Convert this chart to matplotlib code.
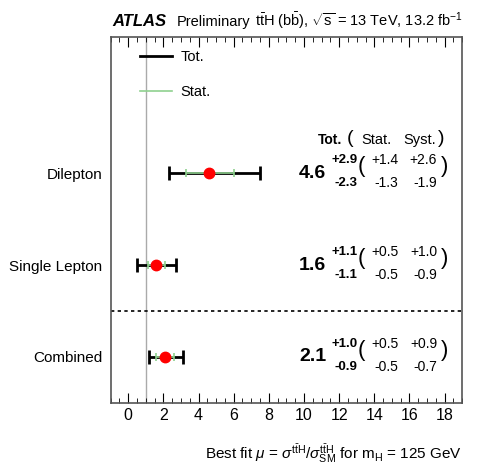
import matplotlib
matplotlib.use("Agg")
import matplotlib.pyplot as plt
from matplotlib.lines import Line2D
from matplotlib.ticker import MultipleLocator

plt.rcParams['font.family'] = ['Liberation Sans', 'DejaVu Sans']
plt.rcParams['mathtext.fontset'] = 'custom'
plt.rcParams['mathtext.rm'] = 'Liberation Sans'
plt.rcParams['mathtext.it'] = 'Liberation Sans:italic'

# channels, bottom to top
CHANNELS = ["Combined", "Single Lepton", "Dilepton"]
MU = [2.1, 1.6, 4.6]
TOT_UP = [1.0, 1.1, 2.9]
TOT_DN = [0.9, 1.1, 2.3]
STAT_UP = [0.5, 0.5, 1.4]
STAT_DN = [0.5, 0.5, 1.3]
SYST_UP = [0.9, 1.0, 2.6]
SYST_DN = [0.7, 0.9, 1.9]
SM_MU = 1.0

GREEN = '#8fd18f'

fig = plt.figure(figsize=(4.83, 4.68), dpi=100)
ax = fig.add_axes([0.229, 0.139, 0.728, 0.782])

ypos = list(range(len(CHANNELS)))

ax.axvline(SM_MU, color='#aaaaaa', lw=1, zorder=1)
ax.axhline(0.5, color='black', lw=1.2, ls=(0, (2, 2)), zorder=1)

ax.errorbar(MU, ypos, xerr=[TOT_DN, TOT_UP], fmt='none', ecolor='black',
            elinewidth=2, capsize=5, capthick=2, zorder=2)
ax.errorbar(MU, ypos, xerr=[STAT_DN, STAT_UP], fmt='none', ecolor=GREEN,
            elinewidth=1.2, capsize=3, capthick=1.2, zorder=3)
ax.plot(MU, ypos, 'o', color='red', ms=7.5, zorder=4)

# numbers on the right
for i, y in enumerate(ypos):
    ax.text(10.5, y, f"{MU[i]:.1f}", fontsize=14, fontweight='bold',
            ha='center', va='center')
    ax.text(11.55, y + 0.14, f"+{TOT_UP[i]:.1f}", fontsize=9.5, fontweight='bold',
            ha='left', va='center')
    ax.text(11.75, y - 0.11, f"-{TOT_DN[i]:.1f}", fontsize=9.5, fontweight='bold',
            ha='left', va='center')
    ax.text(13.25, y + 0.07, "(", fontsize=16, ha='center', va='center')
    ax.text(14.6, y + 0.14, f"+{STAT_UP[i]:.1f}", fontsize=10, ha='center', va='center')
    ax.text(14.7, y - 0.11, f"-{STAT_DN[i]:.1f}", fontsize=10, ha='center', va='center')
    ax.text(16.8, y + 0.14, f"+{SYST_UP[i]:.1f}", fontsize=10, ha='center', va='center')
    ax.text(16.9, y - 0.11, f"-{SYST_DN[i]:.1f}", fontsize=10, ha='center', va='center')
    ax.text(18.0, y + 0.07, ")", fontsize=16, ha='center', va='center')

ax.text(11.5, 2.36, "Tot.", fontsize=10, fontweight='bold', ha='center', va='center')
ax.text(12.6, 2.38, "(", fontsize=14, ha='center', va='center')
ax.text(14.1, 2.36, "Stat.", fontsize=10.5, ha='center', va='center')
ax.text(16.55, 2.36, "Syst.", fontsize=10.5, ha='center', va='center')
ax.text(17.8, 2.38, ")", fontsize=14, ha='center', va='center')

handles = [Line2D([], [], color='black', lw=2), Line2D([], [], color=GREEN, lw=1.2)]
ax.legend(handles, ["Tot.", "Stat."], loc='upper left', frameon=False,
          fontsize=10.5, handlelength=2.2, handletextpad=0.6, labelspacing=1.45,
          bbox_to_anchor=(0.045, 1.0))

ax.set_xlim(-1, 19)
ax.set_ylim(-0.5, 3.48)
ax.set_yticks(ypos)
ax.set_yticklabels(CHANNELS, fontsize=11)
ax.tick_params(axis='y', length=0, pad=6)
ax.xaxis.set_major_locator(MultipleLocator(2))
ax.xaxis.set_minor_locator(MultipleLocator(0.5))
ax.tick_params(axis='x', which='both', direction='in', top=True, labelsize=11.5)
ax.tick_params(axis='x', which='major', length=7)
ax.tick_params(axis='x', which='minor', length=3.5)
for s in ax.spines.values():
    s.set_color('#555555')
    s.set_linewidth(1.2)

ax.set_xlabel(r"Best fit $\mu$ = $\sigma^{\mathrm{t\bar{t}H}}/\sigma^{\mathrm{t\bar{t}H}}_{\mathrm{SM}}$"
              r" for m$_{\mathrm{H}}$ = 125 GeV",
              fontsize=11, ha='right', x=1.0, labelpad=14)

fig.text(0.232, 0.944, "ATLAS", fontsize=12, fontweight='bold', fontstyle='italic')
fig.text(0.366, 0.944, "Preliminary", fontsize=10.5)
fig.text(0.528, 0.944,
         r"$\mathrm{t\bar{t}H}$ ($\mathrm{b\bar{b}}$), $\sqrt{\mathrm{s}}$ = 13 TeV, 13.2 fb$^{\mathrm{-1}}$",
         fontsize=10.5)

fig.savefig("out.png", dpi=100)
